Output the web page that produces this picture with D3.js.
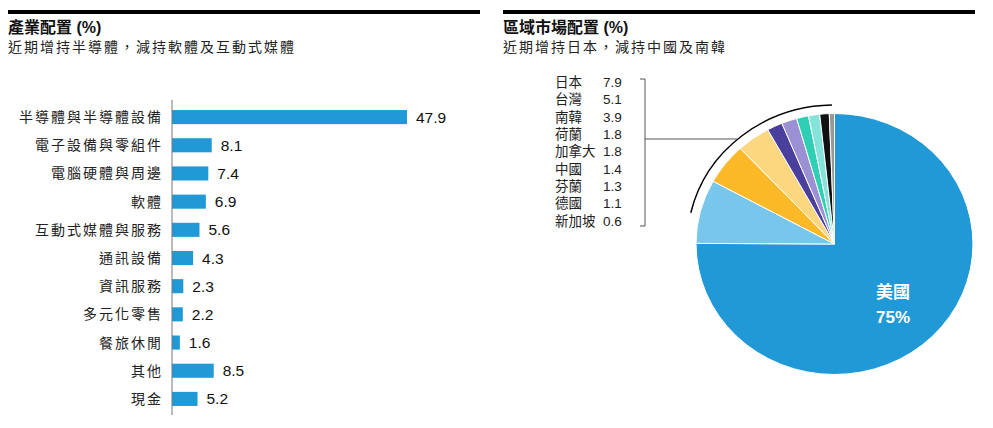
<!DOCTYPE html>
<html lang="zh-Hant">
<head>
<meta charset="utf-8">
<script src="https://cdn.jsdelivr.net/npm/d3@7"></script>
<style>
  body { margin: 0; background: #fff; }
  svg { display: block; font-family: "Liberation Sans", "Noto Sans CJK TC", sans-serif; }
</style>
</head>
<body>
<svg id="chart" width="993" height="428"></svg>
<script>
// industry allocation
var sectors = ["半導體與半導體設備", "電子設備與零組件", "電腦硬體與周邊", "軟體", "互動式媒體與服務",
  "通訊設備", "資訊服務", "多元化零售", "餐旅休閒", "其他", "現金"];
var sectorValues = [47.9, 8.1, 7.4, 6.9, 5.6, 4.3, 2.3, 2.2, 1.6, 8.5, 5.2];

// regional allocation
var regions = ["美國", "日本", "台灣", "南韓", "荷蘭", "加拿大", "中國", "芬蘭", "德國", "新加坡"];
var regionValues = [75, 7.9, 5.1, 3.9, 1.8, 1.8, 1.4, 1.3, 1.1, 0.6];
var regionColors = ["#2199d6", "#78c6ec", "#fbb827", "#fdd680", "#4b3f9e", "#9c90d4",
  "#2fcfb5", "#86e3da", "#111111", "#999999"];

var svg = d3.select("#chart");

// ---- headers
function header(x, w, title, sub) {
  svg.append("rect").attr("x", x).attr("y", 10).attr("width", w).attr("height", 4).attr("fill", "#000");
  svg.append("text").attr("x", x).attr("y", 33)
    .attr("font-size", 16).attr("font-weight", "bold").attr("fill", "#111")
    .text(title);
  svg.append("text").attr("x", x).attr("y", 52)
    .attr("font-size", 14).attr("letter-spacing", 2).attr("fill", "#222")
    .text(sub);
}
header(8, 472, "產業配置 (%)", "近期增持半導體，減持軟體及互動式媒體");
header(503, 472, "區域市場配置 (%)", "近期增持日本，減持中國及南韓");

// ---- bar chart
var x = d3.scaleLinear().domain([0, 47.9]).range([172, 407]);
var y = d3.scaleBand().domain(sectors).range([103, 413]).paddingInner(0.5).paddingOuter(0.25);

var bars = svg.append("g");
bars.selectAll("rect").data(sectors).join("rect")
  .attr("x", x(0))
  .attr("y", function(d) { return y(d); })
  .attr("width", function(d, i) { return x(sectorValues[i]) - x(0); })
  .attr("height", y.bandwidth())
  .attr("fill", "#2199d6");

bars.selectAll(".val").data(sectors).join("text")
  .attr("class", "val")
  .attr("x", function(d, i) { return x(sectorValues[i]) + 9; })
  .attr("y", function(d) { return y(d) + y.bandwidth() / 2; })
  .attr("dy", "0.36em")
  .attr("font-size", 15.5).attr("fill", "#111")
  .text(function(d, i) { return sectorValues[i].toFixed(1); });

bars.selectAll(".cat").data(sectors).join("text")
  .attr("class", "cat")
  .attr("x", 163)
  .attr("y", function(d) { return y(d) + y.bandwidth() / 2; })
  .attr("dy", "0.36em")
  .attr("text-anchor", "end")
  .attr("font-size", 14).attr("letter-spacing", 2).attr("fill", "#222")
  .text(function(d) { return d; });

svg.append("line").attr("x1", x(0)).attr("x2", x(0)).attr("y1", 100).attr("y2", 415)
  .attr("stroke", "#777").attr("stroke-width", 1);

// ---- pie
var cx = 834.5, cy = 244, r = 130.5, sx = 1.061;
var pie = d3.pie().sort(null).value(function(d) { return d; });
var arc = d3.arc().innerRadius(0).outerRadius(r);
var pg = svg.append("g").attr("transform", "translate(" + cx + "," + cy + ") scale(" + sx + ",1)");
pg.selectAll("path").data(pie(regionValues)).join("path")
  .attr("d", arc)
  .attr("fill", function(d, i) { return regionColors[i]; })
  .attr("stroke", "#fff").attr("stroke-width", 1)
  .attr("vector-effect", "non-scaling-stroke");

// bracket arc round the small slices
var br = 139, a0 = 283 * Math.PI / 180, a1 = 359 * Math.PI / 180;
pg.append("path")
  .attr("d", d3.arc().innerRadius(br).outerRadius(br).startAngle(a0).endAngle(a1)())
  .attr("fill", "none").attr("stroke", "#000").attr("stroke-width", 1.5)
  .attr("vector-effect", "non-scaling-stroke");

var pieLabel = svg.append("g").attr("fill", "#fff").attr("font-weight", "bold")
  .attr("text-anchor", "middle").attr("font-size", 17);
pieLabel.append("text").attr("x", 893).attr("y", 298).text(regions[0]);
pieLabel.append("text").attr("x", 893).attr("y", 323).text(regionValues[0] + "%");

// legend for the other regions
var ly = d3.scalePoint().domain(regions.slice(1)).range([82, 221]);
var leg = svg.append("g").attr("font-size", 13.5).attr("fill", "#222");
leg.selectAll(".n").data(regions.slice(1)).join("text")
  .attr("class", "n").attr("x", 555).attr("y", function(d) { return ly(d); }).attr("dy", "0.36em")
  .text(function(d) { return d; });
leg.selectAll(".v").data(regions.slice(1)).join("text")
  .attr("class", "v").attr("x", 603).attr("y", function(d) { return ly(d); }).attr("dy", "0.36em")
  .text(function(d, i) { return regionValues[i + 1].toFixed(1); });

// bracket + leader line
var lineY = 139;
var dy = lineY - cy;
var lineEnd = cx - sx * Math.sqrt(br * br - dy * dy);
svg.append("path")
  .attr("d", "M640,79H645V226H640M645," + lineY + "H" + lineEnd)
  .attr("fill", "none").attr("stroke", "#555").attr("stroke-width", 1);
</script>
</body>
</html>
